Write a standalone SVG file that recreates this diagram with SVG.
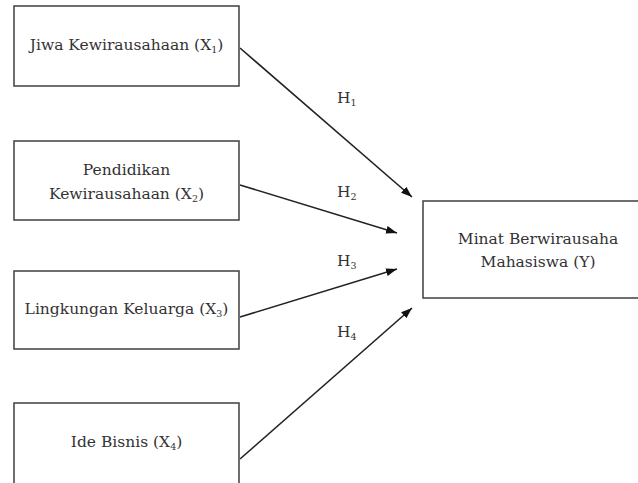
<svg xmlns="http://www.w3.org/2000/svg" width="638" height="483" viewBox="0 0 638 483">
<style>
.box{fill:#fff;stroke:#4a4a4a;stroke-width:1.6}
.t{font-size:15.5px;fill:#333;text-anchor:middle}
.h{font-size:15.5px;fill:#333}
.sub{font-size:9.5px}
.c{stroke:#222;stroke-width:1.6;fill:none;marker-end:url(#ah)}
</style>
<defs>
<marker id="ah" markerUnits="userSpaceOnUse" markerWidth="12" markerHeight="9" refX="11" refY="4" orient="auto">
<path d="M0,0 L11,4 L0,8 z" fill="#111"/>
</marker>
</defs>
<rect width="638" height="483" fill="#fff"/>
<g id="connectors">
<line class="c" x1="240" y1="48" x2="412" y2="197"/>
<line class="c" x1="240" y1="185" x2="397" y2="233"/>
<line class="c" x1="240" y1="317" x2="397" y2="269"/>
<line class="c" x1="240" y1="459" x2="412" y2="308"/>
</g>
<g font-family="'DejaVu Serif', serif">
<g id="x1">
<rect class="box" x="14" y="6" width="225" height="80"/>
<text class="t" x="126.5" y="50">Jiwa Kewirausahaan (X<tspan class="sub" dy="3">1</tspan><tspan dy="-3">)</tspan></text>
</g>
<g id="x2">
<rect class="box" x="14" y="141" width="225" height="79"/>
<text class="t" x="126.5" y="175">Pendidikan</text>
<text class="t" x="126.5" y="199">Kewirausahaan (X<tspan class="sub" dy="3">2</tspan><tspan dy="-3">)</tspan></text>
</g>
<g id="x3">
<rect class="box" x="14" y="271" width="225" height="78"/>
<text class="t" x="126.5" y="314">Lingkungan Keluarga (X<tspan class="sub" dy="3">3</tspan><tspan dy="-3">)</tspan></text>
</g>
<g id="x4">
<rect class="box" x="14" y="403" width="225" height="90"/>
<text class="t" x="126.5" y="447">Ide Bisnis (X<tspan class="sub" dy="3">4</tspan><tspan dy="-3">)</tspan></text>
</g>
<g id="y">
<rect class="box" x="423" y="201" width="230" height="97"/>
<text class="t" x="538" y="244">Minat Berwirausaha</text>
<text class="t" x="538" y="267">Mahasiswa (Y)</text>
</g>
<g id="labels">
<text class="h" x="337" y="103">H<tspan class="sub" dy="3">1</tspan></text>
<text class="h" x="337" y="197">H<tspan class="sub" dy="3">2</tspan></text>
<text class="h" x="337" y="266">H<tspan class="sub" dy="3">3</tspan></text>
<text class="h" x="337" y="337">H<tspan class="sub" dy="3">4</tspan></text>
</g>
</g>
</svg>
